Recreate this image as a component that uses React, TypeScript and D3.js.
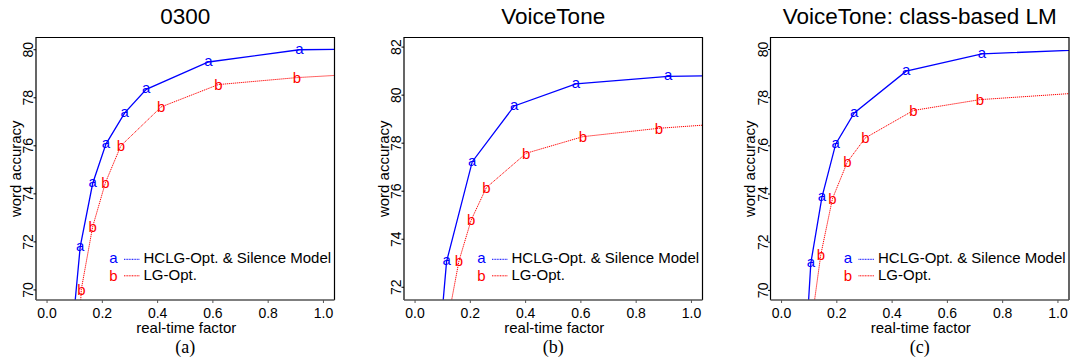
import React, { useEffect, useRef } from 'react'
import * as d3 from 'd3'

// real-time factor / word accuracy
const rtfHclgA = [0.085, 0.12, 0.165, 0.213, 0.281, 0.359, 0.584, 0.913, 1.3]
const accHclgA = [67.5, 71.8, 74.43, 76.07, 77.37, 78.35, 79.49, 80.0, 80.05]
const rtfLgA = [0.11, 0.124, 0.165, 0.211, 0.267, 0.413, 0.62, 0.904, 1.3]
const accLgA = [67.0, 70.03, 72.63, 74.46, 76.0, 77.62, 78.55, 78.84, 79.1]

const rtfHclgB = [0.09, 0.114, 0.207, 0.359, 0.582, 0.916, 1.3]
const accHclgB = [69.9, 73.07, 77.23, 79.55, 80.47, 80.78, 80.84]
const rtfLgB = [0.11, 0.159, 0.203, 0.258, 0.402, 0.607, 0.882, 1.3]
const accLgB = [70.1, 73.1, 74.8, 76.15, 77.58, 78.27, 78.62, 78.96]

const rtfHclgC = [0.09, 0.106, 0.146, 0.196, 0.263, 0.451, 0.725, 1.3]
const accHclgC = [68.1, 71.14, 73.86, 76.08, 77.37, 79.1, 79.82, 80.09]
const rtfLgC = [0.11, 0.142, 0.184, 0.238, 0.303, 0.477, 0.718, 1.3]
const accLgC = [68.8, 71.48, 73.8, 75.33, 76.33, 77.47, 77.92, 78.37]

const xTicks = [0, 0.2, 0.4, 0.6, 0.8, 1.0]
const yTicksA = [70, 72, 74, 76, 78, 80]
const yTicksB = [72, 74, 76, 78, 80, 82]
const yTicksC = [70, 72, 74, 76, 78, 80]

const titles = ['0300', 'VoiceTone', 'VoiceTone: class-based LM']
const captions = ['(a)', '(b)', '(c)']
const seriesNames = ['HCLG-Opt. & Silence Model', 'LG-Opt.']

const panels = [
  { left: 36, yDomain: [69.58, 80.51], yTicks: yTicksA,
    hclg: [rtfHclgA, accHclgA], lg: [rtfLgA, accLgA] },
  { left: 404, yDomain: [71.47, 82.4], yTicks: yTicksB,
    hclg: [rtfHclgB, accHclgB], lg: [rtfLgB, accLgB] },
  { left: 770.5, yDomain: [69.6, 80.5], yTicks: yTicksC,
    hclg: [rtfHclgC, accHclgC], lg: [rtfLgC, accLgC] },
]

const FONT = '"Liberation Sans", Arial, Helvetica, sans-serif'
const W = 298.5, TOP = 37.5, BOTTOM = 300

export default function App() {
  const ref = useRef<SVGSVGElement>(null)

  useEffect(() => {
    const svg = d3.select(ref.current)
    svg.selectAll('*').remove()

    panels.forEach((p, pi) => {
      const x = d3.scaleLinear().domain([-0.04, 1.04]).range([p.left, p.left + W])
      const y = d3.scaleLinear().domain(p.yDomain).range([BOTTOM, TOP])
      const g = svg.append('g')
      const clipId = `clip${pi}`
      svg.append('defs').append('clipPath').attr('id', clipId)
        .append('rect').attr('x', p.left).attr('y', TOP).attr('width', W).attr('height', BOTTOM - TOP)

      // title
      g.append('text').attr('x', p.left + W / 2).attr('y', 24)
        .attr('text-anchor', 'middle').attr('font-family', FONT).attr('font-size', 22.5)
        .text(titles[pi])

      // series
      const series = [
        { d: p.hclg, color: '#0000ff', ch: 'a', dash: null, w: 1.3, off: 0.26 },
        { d: p.lg, color: '#ff0000', ch: 'b', dash: '1.2,0.8', w: 1, off: 0.36 },
      ]
      const [x0, x1] = x.domain()
      const [y0, y1] = y.domain()
      const plot = g.append('g').attr('clip-path', `url(#${clipId})`)
      series.forEach(s => {
        const pts = s.d[0].map((v, i) => [v, s.d[1][i]] as [number, number])
        const line = d3.line<[number, number]>().x(d => x(d[0])).y(d => y(d[1]))
        plot.append('path').attr('d', line(pts)).attr('fill', 'none')
          .attr('stroke', s.color).attr('stroke-width', s.w)
          .attr('stroke-dasharray', s.dash)
        const shown = pts.filter(d => d[0] >= x0 && d[0] <= x1 && d[1] >= y0 && d[1] <= y1)
        plot.selectAll(null).data(shown).enter().append('text')
          .attr('x', d => x(d[0])).attr('y', d => y(d[1]) + 15 * s.off)
          .attr('text-anchor', 'middle').attr('font-family', FONT).attr('font-size', 15)
          .attr('fill', s.color).text(s.ch)
      })

      // box
      g.append('path')
        .attr('d', `M${p.left},${BOTTOM}V${TOP}H${p.left + W}V${BOTTOM}`)
        .attr('fill', 'none').attr('stroke', '#000').attr('stroke-width', 1.2)
      g.append('line').attr('x1', p.left).attr('x2', p.left + W)
        .attr('y1', BOTTOM).attr('y2', BOTTOM).attr('stroke', '#555').attr('stroke-width', 1.5)

      // x axis
      xTicks.forEach(t => {
        g.append('line').attr('x1', x(t)).attr('x2', x(t)).attr('y1', BOTTOM).attr('y2', BOTTOM + 3)
          .attr('stroke', '#555')
        g.append('text').attr('x', x(t)).attr('y', 317.5).attr('text-anchor', 'middle')
          .attr('font-family', FONT).attr('font-size', 14).text(t.toFixed(1))
      })
      g.append('text').attr('x', p.left + W / 2 + 1).attr('y', 332.5)
        .attr('text-anchor', 'middle').attr('font-family', FONT).attr('font-size', 15)
        .text('real-time factor')

      // y axis
      p.yTicks.forEach(t => {
        g.append('line').attr('x1', p.left - 2.5).attr('x2', p.left).attr('y1', y(t)).attr('y2', y(t))
          .attr('stroke', '#000')
        g.append('text').attr('transform', `translate(${p.left - 3},${y(t)}) rotate(-90)`)
          .attr('text-anchor', 'middle').attr('font-family', FONT).attr('font-size', 14).text(t)
      })
      g.append('text').attr('transform', `translate(${p.left - 15.5},${(TOP + BOTTOM) / 2}) rotate(-90)`)
        .attr('text-anchor', 'middle').attr('font-family', FONT).attr('font-size', 15)
        .text('word accuracy')

      // legend
      const lx = p.left + 77.5
      series.forEach((s, i) => {
        const cy = 259.3 + i * 16.5
        g.append('text').attr('x', lx).attr('y', cy + 15 * s.off).attr('text-anchor', 'middle')
          .attr('font-family', FONT).attr('font-size', 15).attr('fill', s.color).text(s.ch)
        g.append('line').attr('x1', lx + 10.5).attr('x2', lx + 26).attr('y1', cy).attr('y2', cy)
          .attr('stroke', s.color).attr('stroke-width', 1).attr('stroke-dasharray', '1,0.6')
        g.append('text').attr('x', lx + 30).attr('y', cy + 4)
          .attr('font-family', FONT).attr('font-size', 15).text(seriesNames[i])
      })

      // caption
      g.append('text').attr('x', p.left + W / 2).attr('y', 353).attr('text-anchor', 'middle')
        .attr('font-family', '"Liberation Serif", "Times New Roman", serif').attr('font-size', 18)
        .text(captions[pi])
    })
  }, [])

  return (
    <svg ref={ref} width={1070} height={364}
      style={{ position: 'absolute', left: 0, top: 0, background: '#fff' }} />
  )
}
